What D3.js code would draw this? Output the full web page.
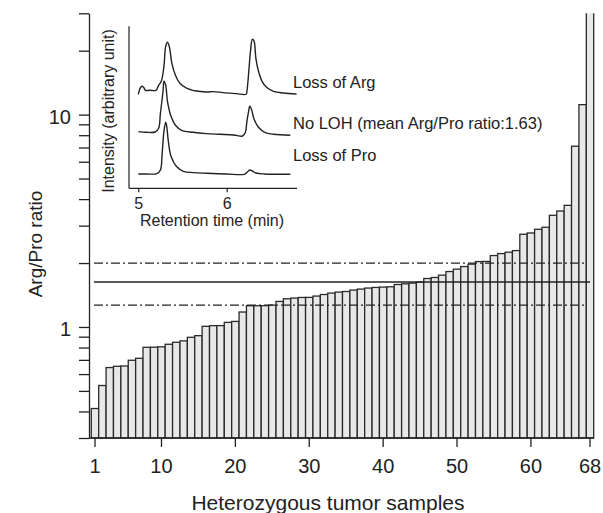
<!DOCTYPE html>
<html>
<head>
<meta charset="utf-8">
<script src="https://cdn.jsdelivr.net/npm/d3@7/dist/d3.min.js"></script>
<style>
  body { margin: 0; background: #fff; }
  svg { display: block; font-family: Arial, "Liberation Sans", Helvetica, sans-serif; }
</style>
</head>
<body>
<svg width="603" height="513"></svg>
<script>
// Arg/Pro ratio per heterozygous tumor sample, sorted ascending
const samples = d3.range(1, 69);
const ratios = [
  0.413, 0.530, 0.644, 0.653, 0.655, 0.697, 0.712, 0.802, 0.803, 0.806,
  0.829, 0.847, 0.860, 0.894, 0.910, 1.007, 1.014, 1.015, 1.051, 1.062,
  1.176, 1.259, 1.259, 1.260, 1.268, 1.319, 1.358, 1.368, 1.377, 1.378,
  1.398, 1.422, 1.444, 1.460, 1.469, 1.492, 1.508, 1.525, 1.535, 1.541,
  1.546, 1.585, 1.597, 1.609, 1.626, 1.691, 1.710, 1.754, 1.824, 1.872,
  1.925, 1.976, 2.032, 2.035, 2.169, 2.216, 2.249, 2.289, 2.733, 2.771,
  2.884, 2.948, 3.356, 3.516, 3.739, 7.10, 11.14, 32
];
const xTicks = [1, 10, 20, 30, 40, 50, 60, 68];
const yLabelTicks = [1, 10];
const yTicks = [0.3, 0.4, 0.5, 0.6, 0.7, 0.8, 0.9, 1, 2, 3, 4, 5, 6, 7, 8, 9, 10, 20, 30];
const meanRatio = 1.63;
const upperRatio = 2.0;
const lowerRatio = 1.268;

// inset chromatograms: [retention time (min), intensity (arbitrary)]
const lossOfArg = [
  [5.00, 94], [5.02, 100], [5.04, 102], [5.06, 101], [5.08, 98], [5.13, 98], [5.20, 98],
  [5.23, 103], [5.26, 107], [5.29, 122], [5.31, 142], [5.33, 146], [5.35, 142], [5.38, 125],
  [5.42, 113], [5.47, 105], [5.55, 100], [5.60, 98.5], [5.64, 97.5], [5.77, 96.3], [5.85, 96.7],
  [5.96, 95.7], [6.11, 94.7], [6.22, 94], [6.23, 98], [6.25, 117], [6.27, 138], [6.29, 149],
  [6.31, 147], [6.33, 130], [6.36, 117], [6.40, 107], [6.45, 101], [6.53, 97], [6.64, 95.3], [6.79, 94.3]
];
const noLOH = [
  [5.00, 56.7], [5.09, 56], [5.19, 56.3], [5.23, 60], [5.25, 75], [5.28, 97], [5.29, 107],
  [5.31, 103], [5.33, 87], [5.37, 72], [5.42, 63], [5.49, 58], [5.62, 56], [5.77, 54.7],
  [5.92, 54], [6.08, 53.3], [6.18, 52.3], [6.21, 55.7], [6.23, 68], [6.25, 78], [6.26, 82],
  [6.28, 79], [6.31, 69], [6.36, 61], [6.43, 56], [6.53, 54], [6.72, 53]
];
const lossOfPro = [
  [5.00, 14.3], [5.09, 14.3], [5.21, 14.7], [5.25, 18.3], [5.27, 35], [5.29, 57], [5.31, 66],
  [5.32, 63], [5.34, 47], [5.37, 32], [5.43, 22], [5.51, 17], [5.62, 15.7], [5.77, 15],
  [6.00, 14.3], [6.20, 14], [6.23, 16], [6.26, 18.3], [6.29, 17.3], [6.33, 15.3], [6.43, 14.3], [6.72, 14]
];
const insetTicks = [5, 6];
const traceLabels = ["Loss of Arg", "No LOH (mean Arg/Pro ratio:1.63)", "Loss of Pro"];

const svg = d3.select("svg");
const ink = "#222";

// main scales
const x = d3.scaleBand().domain(samples).range([91.3, 593.7]).padding(0);
const y = d3.scaleLog().domain([0.3, 30]).range([438, 13.3]);

svg.append("clipPath").attr("id", "plotclip")
  .append("rect").attr("x", 85).attr("y", y(30)).attr("width", 520).attr("height", y(0.3) - y(30) + 2);

// bars
svg.append("g").attr("clip-path", "url(#plotclip)")
  .selectAll("rect")
  .data(ratios)
  .enter().append("rect")
  .attr("x", (d, i) => x(samples[i]))
  .attr("y", d => y(d))
  .attr("width", x.bandwidth())
  .attr("height", d => y(0.3) - y(d))
  .attr("fill", "#e8e8e8")
  .attr("stroke", "#2a2a2a")
  .attr("stroke-width", 1.3);

// reference lines
const xStart = x(1) + x.bandwidth() / 2 - 1;
const xEnd = x(68) + x.bandwidth() / 2;
svg.append("line")
  .attr("x1", xStart).attr("x2", xEnd)
  .attr("y1", y(meanRatio)).attr("y2", y(meanRatio))
  .attr("stroke", ink).attr("stroke-width", 1.5);
[upperRatio, lowerRatio].forEach(v => {
  svg.append("line")
    .attr("x1", xStart).attr("x2", xEnd - 4)
    .attr("y1", y(v)).attr("y2", y(v))
    .attr("stroke", ink).attr("stroke-width", 1.3)
    .attr("stroke-dasharray", "9,3,2,3");
});

// y axis
const yAxis = svg.append("g").attr("transform", "translate(89,0)")
  .call(d3.axisLeft(y).tickValues(yTicks).tickSize(10).tickSizeOuter(0).tickFormat(""));
yAxis.selectAll("line, path").attr("stroke", ink).attr("stroke-width", 1.3);
svg.selectAll(".ylab")
  .data(yLabelTicks)
  .enter().append("text")
  .attr("x", 71)
  .attr("y", d => y(d) + 9)
  .attr("text-anchor", "end")
  .attr("font-size", 20)
  .attr("fill", ink)
  .text(d => d);

// x axis
const xAxis = svg.append("g").attr("transform", "translate(0,438)")
  .call(d3.axisBottom(x).tickValues(xTicks).tickSize(9).tickSizeOuter(0));
xAxis.select(".domain").attr("d", "M89,0H594");
xAxis.selectAll("line, path").attr("stroke", ink).attr("stroke-width", 1.3);
xAxis.selectAll("text").attr("font-size", 20).attr("fill", ink).attr("dy", null).attr("y", 35)
  .attr("font-family", null);

// axis titles
svg.append("text")
  .attr("x", 328).attr("y", 510)
  .attr("text-anchor", "middle").attr("font-size", 21).attr("fill", ink)
  .text("Heterozygous tumor samples");
svg.append("text")
  .attr("transform", "translate(42,244) rotate(-90)")
  .attr("text-anchor", "middle").attr("font-size", 19).attr("fill", ink)
  .text("Arg/Pro ratio");

// inset
const ix = d3.scaleLinear().domain([5, 6]).range([138.3, 226.7]);
const iy = d3.scaleLinear().domain([0, 162]).range([188.3, 26.3]);

const insetAxisX = svg.append("g").attr("transform", "translate(0,188.3)")
  .call(d3.axisBottom(ix).tickValues(insetTicks).tickFormat(d3.format("d")).tickSize(4).tickSizeOuter(0));
insetAxisX.select(".domain").attr("d", "M129,0H297");
insetAxisX.selectAll("line, path").attr("stroke", ink).attr("stroke-width", 1.2);
insetAxisX.selectAll("text").attr("font-size", 16).attr("fill", ink).attr("dy", null).attr("y", 21)
  .attr("font-family", null);

svg.append("line")
  .attr("x1", 129).attr("x2", 129)
  .attr("y1", iy(0)).attr("y2", iy(162))
  .attr("stroke", ink).attr("stroke-width", 1.2);

const trace = d3.line().x(d => ix(d[0])).y(d => iy(d[1])).curve(d3.curveCatmullRom.alpha(0.5));
[lossOfArg, noLOH, lossOfPro].forEach(t => {
  svg.append("path")
    .attr("d", trace(t))
    .attr("fill", "none")
    .attr("stroke", ink)
    .attr("stroke-width", 1.4);
});

const labelY = [88, 129, 161];
svg.selectAll(".tracelab")
  .data(traceLabels)
  .enter().append("text")
  .attr("x", 293)
  .attr("y", (d, i) => labelY[i])
  .attr("font-size", 16.5)
  .attr("fill", ink)
  .text(d => d);

svg.append("text")
  .attr("x", 212).attr("y", 226)
  .attr("text-anchor", "middle").attr("font-size", 16).attr("fill", ink)
  .text("Retention time (min)");
svg.append("text")
  .attr("transform", "translate(114,111) rotate(-90)")
  .attr("text-anchor", "middle").attr("font-size", 16).attr("fill", ink)
  .text("Intensity (arbitrary unit)");
</script>
</body>
</html>
